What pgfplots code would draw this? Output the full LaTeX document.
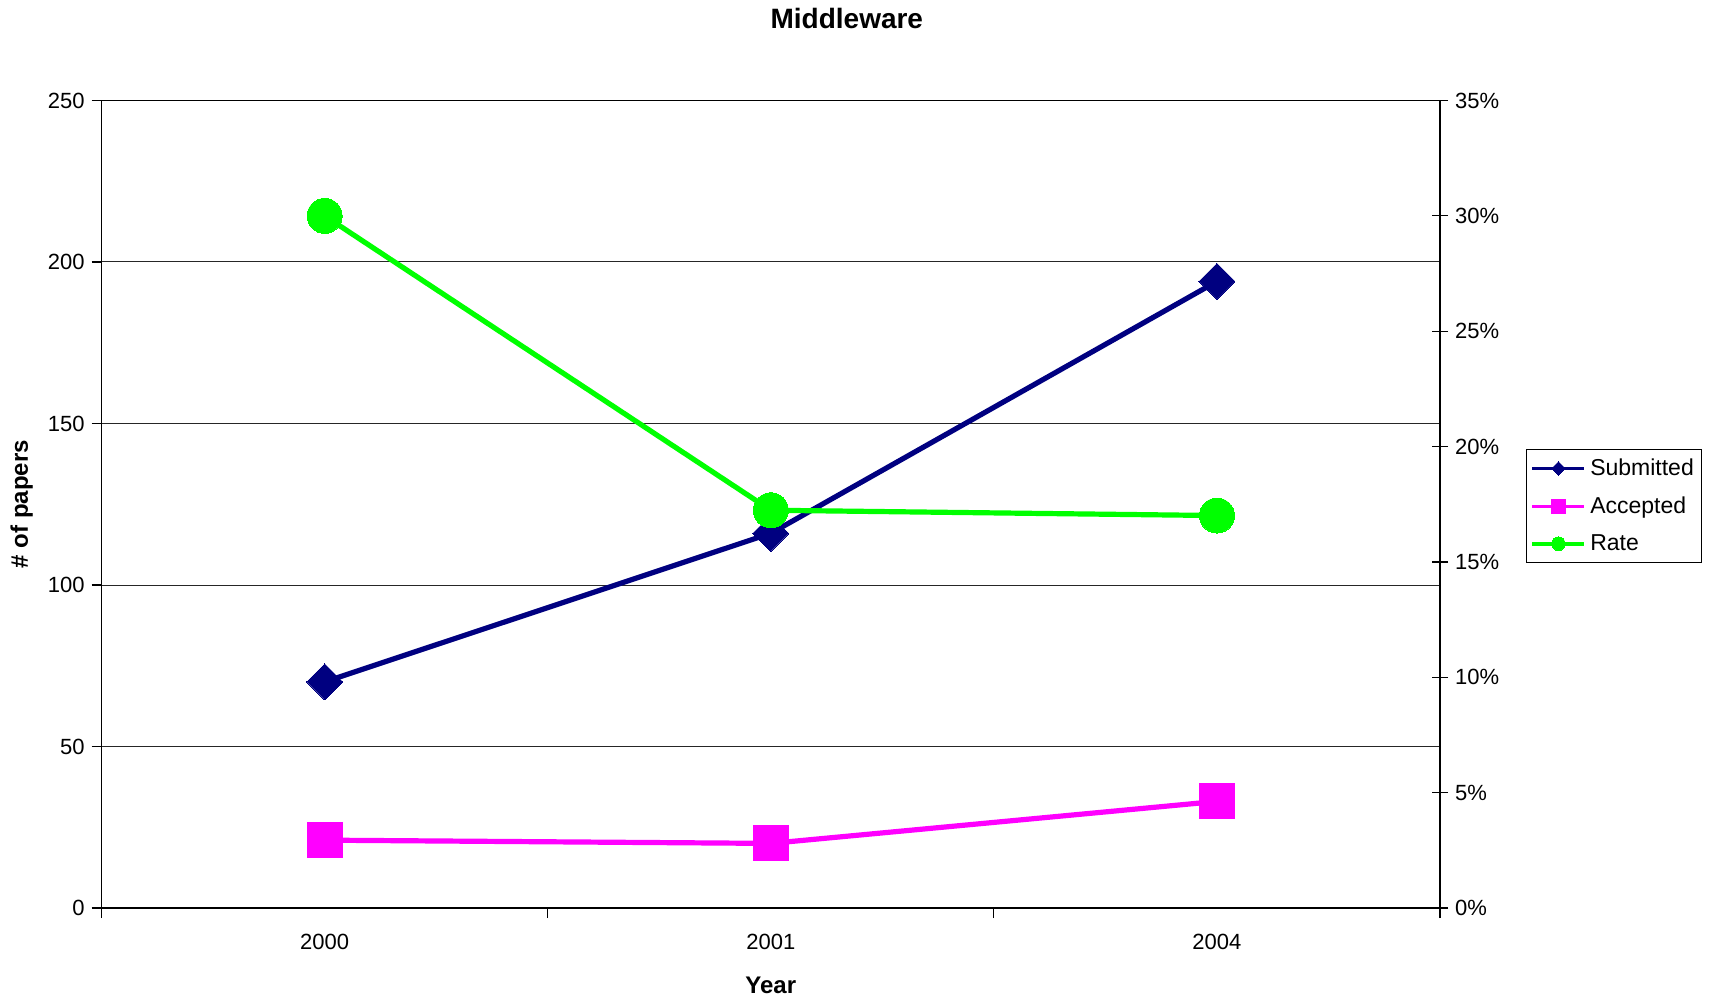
\documentclass[border=0pt]{standalone}
\usepackage{pgfplots}
\pgfplotsset{compat=1.18}
\usepackage{fontspec}
\setmainfont{Liberation Sans}
\definecolor{subm}{RGB}{0,0,128}
\definecolor{acc}{RGB}{255,0,255}
\definecolor{rate}{RGB}{0,255,0}
\begin{document}
\begin{tikzpicture}
\useasboundingbox (0pt,0pt) rectangle (856.5pt,498pt);
\pgfplotsset{
  every axis/.append style={
    at={(50.8pt,44pt)}, anchor=south west,
    scale only axis, width=669.2pt, height=403.75pt,
    xmin=-0.5, xmax=2.5,
    /pgf/number format/assume math mode=true,
    tick label style={font=\fontsize{11}{13}\selectfont},
    axis line style={black, line width=0.7pt},
    tick style={black, line width=0.6pt},
  },
  legend image code/.code={%
    \draw[mark repeat=2, mark phase=2, #1, line width=1.8pt, mark size=3.4pt]
      plot coordinates {(0pt,0pt) (13pt,0pt) (26pt,0pt)};%
  },
}
% number of papers (left scale)
\begin{axis}[
  ymin=0, ymax=250, ytick={0,50,...,250},
  xtick={-0.5,0.5,1.5,2.5}, xticklabels={2000,2001,2004},
  x tick label as interval,
  xtick pos=bottom, ytick pos=left,
  tick align=outside, major tick length=5pt,
  xticklabel style={yshift=-4.5pt},
  ymajorgrids, major grid style={black!85, line width=0.5pt},
  xlabel={Year}, ylabel={\# of papers},
  xlabel style={at={(axis description cs:0.5,0)}, anchor=center, yshift=-38.5pt,
    font=\fontsize{12}{14}\selectfont\bfseries},
  ylabel style={at={(axis description cs:0,0.5)}, anchor=center, yshift=40pt,
    font=\fontsize{12}{14}\selectfont\bfseries},
  title={Middleware},
  title style={at={(axis description cs:0.5568,1)}, anchor=center, yshift=35pt,
    font=\fontsize{14}{16}\selectfont\bfseries},
  legend style={at={(1.0643,0.5684)}, anchor=north west, draw=black, line width=0.6pt,
    font=\fontsize{11.5}{13}\selectfont, inner xsep=2pt, inner ysep=2.5pt, row sep=5.1pt,
    cells={anchor=west}},
  legend cell align=left,
]
\addplot[subm, line width=2.6pt, mark=diamond*, mark size=9pt,
  mark options={xscale=1.333, fill=subm, draw=subm, line width=0pt}]
  coordinates {(0,70) (1,116) (2,194)};
\addlegendentry{Submitted}
\addplot[acc, line width=2.6pt, mark=square*, mark size=8.75pt,
  mark options={fill=acc, draw=acc, line width=0pt}]
  coordinates {(0,21) (1,20) (2,33)};
\addlegendentry{Accepted}
\addlegendimage{rate, line width=2.6pt, mark=*, mark size=8.75pt,
  mark options={fill=rate, draw=rate, line width=0pt}}
\addlegendentry{Rate}
\end{axis}
% acceptance rate (right scale, in percent)
\begin{axis}[
  ymin=0, ymax=35, ytick={0,5,...,35},
  yticklabel={\pgfmathprintnumber{\tick}\%},
  axis y line*=right, axis x line=none,
  tick align=center, major tick length=8pt,
]
\addplot[rate, line width=2.6pt, mark=*, mark size=8.75pt,
  mark options={fill=rate, draw=rate, line width=0pt}]
  coordinates {(0,30.0) (1,17.24) (2,17.01)};
\end{axis}
\end{tikzpicture}
\end{document}
